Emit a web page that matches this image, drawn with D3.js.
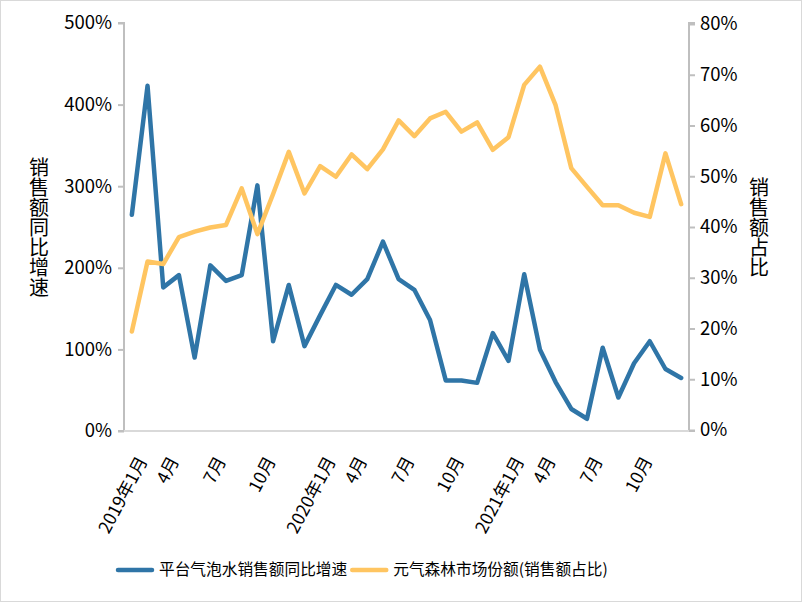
<!DOCTYPE html>
<html><head><meta charset="utf-8">
<script src="https://cdn.jsdelivr.net/npm/d3@7"></script>
<style>
html,body{margin:0;padding:0;background:#fff;}
svg text{font-family:"Noto Sans CJK SC","Noto Sans",sans-serif;fill:#000;}
</style></head>
<body>
<svg id="chart" width="802" height="602"></svg>
<script>
const months = [];
const monthLabels = [];
const years = [2019, 2020, 2021];
years.forEach(y => { for (let m = 1; m <= 12; m++) { months.push(y + "-" + m); monthLabels.push(m === 1 ? y + "年1月" : m + "月"); } });

const growth = [265, 423, 176, 191, 90, 203, 184, 191, 301, 110, 179,
  104, 142, 179, 167, 186, 232, 186, 173, 136, 62, 62, 59,
  120, 86, 192, 100, 60, 27, 15, 102, 41, 83, 110, 76, 65];
const share = [19.4, 33.2, 32.7, 38.0, 39.1, 39.9, 40.4, 47.6, 38.6, 46.5, 54.8,
  46.6, 52.0, 49.9, 54.3, 51.4, 55.3, 61.0, 57.9, 61.4, 62.7, 58.8, 60.6,
  55.2, 57.7, 68.0, 71.6, 64.0, 51.6, 47.9, 44.3, 44.3, 42.8, 42.0, 54.5, 44.5];
const leftTicks = [0, 100, 200, 300, 400, 500];
const rightTicks = [0, 10, 20, 30, 40, 50, 60, 70, 80];
const seriesNames = ["平台气泡水销售额同比增速", "元气森林市场份额(销售额占比)"];
const leftTitle = "销售额同比增速";
const rightTitle = "销售额占比";

const svg = d3.select("#chart");
const W = 802, H = 602;
const L = 124, R = 689, T = 23, B = 431;
const blue = "#2f75a7", orange = "#ffc561", axisCol = "#bfbfbf";

svg.append("rect").attr("x", 0.5).attr("y", 0.5).attr("width", W - 1).attr("height", H - 1)
  .attr("fill", "#fff").attr("stroke", "#d9d9d9");

const x = d3.scaleBand().domain(months).range([L, R]);
const yL = d3.scaleLinear().domain([0, 500]).range([B, T]);
const yR = d3.scaleLinear().domain([0, 80]).range([B - 1, T + 1]);

const ga = svg.append("g").attr("transform", `translate(${L},0)`)
  .call(d3.axisLeft(yL).tickValues(leftTicks).tickSize(6).tickPadding(6).tickFormat(d => d + "%"));
const gb = svg.append("g").attr("transform", `translate(${R},0)`)
  .call(d3.axisRight(yR).tickValues(rightTicks).tickSize(6).tickPadding(5).tickFormat(d => d + "%"));
[ga, gb].forEach(g => {
  g.selectAll("path,line").attr("stroke", axisCol).attr("stroke-width", 2);
  g.select(".domain").attr("d", g === ga ? `M-6,${B}H0V${T}H-6` : `M6,${B}H0V${T}H6`);
  g.selectAll("text").attr("font-size", 18.5).attr("fill", "#000");
});

svg.append("line").attr("x1", L).attr("x2", R).attr("y1", B).attr("y2", B)
  .attr("stroke", "#d9d9d9").attr("stroke-width", 2);

// x labels (rotated)
months.forEach((m, i) => {
  if (i % 3 !== 0) return;
  const cx = x(m) + x.bandwidth() / 2;
  const t = svg.append("text").attr("text-anchor", "end").attr("font-size", 17.5).attr("dy", "0.35em")
    .text(monthLabels[i]);
  const len = t.node().getComputedTextLength();
  t.attr("transform", `translate(${cx - 12.4 + 0.277 * len},${B + 27}) rotate(-62)`);
});

const lineL = d3.line().x((d, i) => x(months[i]) + x.bandwidth() / 2).y(d => yL(d));
const lineR = d3.line().x((d, i) => x(months[i]) + x.bandwidth() / 2).y(d => yR(d));
svg.append("path").datum(growth).attr("d", lineL).attr("fill", "none")
  .attr("stroke", blue).attr("stroke-width", 4.5).attr("stroke-linejoin", "round").attr("stroke-linecap", "round");
svg.append("path").datum(share).attr("d", lineR).attr("fill", "none")
  .attr("stroke", orange).attr("stroke-width", 4.5).attr("stroke-linejoin", "round").attr("stroke-linecap", "round");

// vertical axis titles
function vtext(str, cx, y0) {
  svg.append("text").attr("x", cx).attr("y", y0).attr("font-size", 20)
    .style("writing-mode", "vertical-rl").style("text-orientation", "upright")
    .text(str);
}
vtext(leftTitle, 39, 157);
vtext(rightTitle, 759, 177);

// legend
const lg = svg.append("g");
let lx = 118;
seriesNames.forEach((name, i) => {
  const c = i === 0 ? blue : orange;
  lg.append("line").attr("x1", lx).attr("x2", lx + 34).attr("y1", 570).attr("y2", 570)
    .attr("stroke", c).attr("stroke-width", 4.5).attr("stroke-linecap", "round");
  const t = lg.append("text").attr("x", lx + 41).attr("y", 570).attr("dy", "0.35em").attr("font-size", 15.7)
    .text(name);
  lx = lx + 41 + t.node().getComputedTextLength() + 5;
});
</script>
</body></html>
